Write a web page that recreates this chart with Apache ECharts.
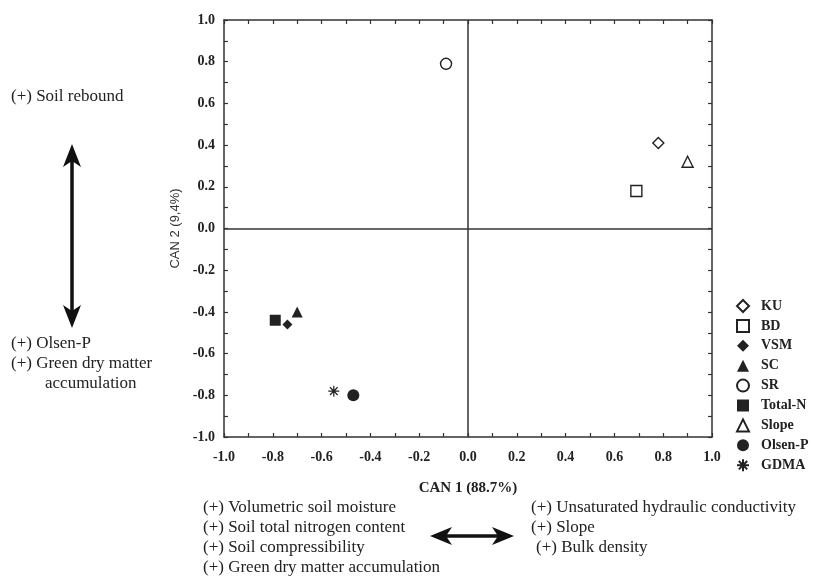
<!DOCTYPE html>
<html><head><meta charset="utf-8">
<script src="https://cdn.jsdelivr.net/npm/echarts@6/dist/echarts.min.js"></script>
<style>html,body{margin:0;padding:0;background:#fff}#c{width:813px;height:580px}</style>
</head><body><div id="c"></div>
<script>
// ---- data ----
const seriesNames = ['KU', 'BD', 'VSM', 'SC', 'SR', 'Total-N', 'Slope', 'Olsen-P', 'GDMA'];
const can1 = [0.78, 0.69, -0.74, -0.70, -0.09, -0.79, 0.90, -0.47, -0.55];
const can2 = [0.41, 0.18, -0.46, -0.40, 0.79, -0.44, 0.32, -0.80, -0.78];
const axisMin = -1.0;
const axisMax = 1.0;
const xTitle = 'CAN 1 (88.7%)';
const yTitle = 'CAN 2 (9,4%)';
const leftTop = ['(+) Soil rebound'];
const leftBottom = ['(+) Olsen-P', '(+) Green dry matter', 'accumulation'];
const bottomLeft = ['(+) Volumetric soil moisture', '(+) Soil total nitrogen content', '(+) Soil compressibility', '(+) Green dry matter accumulation'];
const bottomRight = ['(+) Unsaturated hydraulic conductivity', '(+) Slope', '(+) Bulk density'];

// ---- styles ----
const INK = '#222';
const SERIF = '"Liberation Serif", "Times New Roman", serif';
const ASTER = 'path://M5,0L5,10M0,5L10,5M1.5,1.5L8.5,8.5M1.5,8.5L8.5,1.5';
const markerStyle = {
  'KU': {symbol: 'diamond', size: 11, fill: false},
  'BD': {symbol: 'rect', size: 11, fill: false},
  'VSM': {symbol: 'diamond', size: 10, fill: true},
  'SC': {symbol: 'triangle', size: 11, fill: true},
  'SR': {symbol: 'circle', size: 11, fill: false},
  'Total-N': {symbol: 'rect', size: 11, fill: true},
  'Slope': {symbol: 'triangle', size: 11, fill: false},
  'Olsen-P': {symbol: 'circle', size: 12, fill: true},
  'GDMA': {symbol: ASTER, size: 11, fill: false, stroke: true}
};

const chart = echarts.init(document.getElementById('c'), null, {renderer: 'canvas'});

const series = seriesNames.map((n, i) => {
  const m = markerStyle[n];
  let itemStyle;
  if (m.stroke) itemStyle = {color: 'rgba(0,0,0,0)', borderColor: INK, borderWidth: 1.2, opacity: 1};
  else if (m.fill) itemStyle = {color: INK, borderColor: INK, borderWidth: 0, opacity: 1};
  else itemStyle = {color: '#fff', borderColor: INK, borderWidth: 1.4, opacity: 1};
  const s = {
    type: 'scatter', name: n, data: [[can1[i], can2[i]]],
    symbol: m.symbol, symbolSize: m.size, itemStyle: itemStyle,
    silent: true, z: 5
  };
  if (i === 0) {
    s.markLine = {
      silent: true, symbol: 'none', label: {show: false},
      lineStyle: {color: '#333', width: 1.5, type: 'solid'},
      data: [{xAxis: 0}, {yAxis: 0}], animation: false, z: 2
    };
  }
  return s;
});

const tickCommon = {show: true, inside: true, length: 4, lineStyle: {color: '#333', width: 1.2}};
const minorCommon = {show: true, splitNumber: 2, length: 4, lineStyle: {color: '#333', width: 1.2}};
const lineCommon = {show: true, onZero: false, lineStyle: {color: '#333', width: 1.5}};
const labelCommon = {
  fontFamily: SERIF, fontWeight: 'bold', fontSize: 14, color: INK,
  formatter: v => (Math.abs(v) < 1e-9 ? 0 : v).toFixed(1)
};

const FS = 17;
function txt(x, y, s, extra) {
  return Object.assign({
    type: 'text', x: x, y: y, silent: true,
    style: {text: s, fill: INK, font: FS + 'px ' + SERIF, textVerticalAlign: 'middle', textAlign: 'left'}
  }, extra || {});
}
const graphics = [];
graphics.push(txt(11, 97, leftTop[0]));
graphics.push(txt(11, 344, leftBottom[0]));
graphics.push(txt(11, 364, leftBottom[1]));
graphics.push(txt(45, 384, leftBottom[2]));
const blY = [508, 528, 548, 568];
bottomLeft.forEach((s, i) => graphics.push(txt(203, blY[i], s)));
const brX = [531, 531, 536];
bottomRight.forEach((s, i) => graphics.push(txt(brX[i], blY[i], s)));

// vertical double arrow
graphics.push({type: 'line', silent: true, shape: {x1: 72, y1: 155, x2: 72, y2: 317}, style: {stroke: '#111', lineWidth: 3.5}});
graphics.push({type: 'polygon', silent: true, shape: {points: [[72, 144], [81, 167], [72, 161], [63, 167]]}, style: {fill: '#111'}});
graphics.push({type: 'polygon', silent: true, shape: {points: [[72, 328], [81, 305], [72, 311], [63, 305]]}, style: {fill: '#111'}});
// horizontal double arrow
const ay = 536;
graphics.push({type: 'line', silent: true, shape: {x1: 440, y1: ay, x2: 504, y2: ay}, style: {stroke: '#111', lineWidth: 3.5}});
graphics.push({type: 'polygon', silent: true, shape: {points: [[430, ay], [452, ay - 9], [446, ay], [452, ay + 9]]}, style: {fill: '#111'}});
graphics.push({type: 'polygon', silent: true, shape: {points: [[514, ay], [492, ay - 9], [498, ay], [492, ay + 9]]}, style: {fill: '#111'}});

chart.setOption({
  animation: false,
  backgroundColor: '#fff',
  grid: {left: 224, right: 101, top: 20, bottom: 143, containLabel: false},
  xAxis: [
    {type: 'value', min: axisMin, max: axisMax, interval: 0.2, position: 'bottom',
     axisLine: lineCommon, axisTick: tickCommon, minorTick: minorCommon,
     splitLine: {show: false}, minorSplitLine: {show: false},
     axisLabel: Object.assign({margin: 13}, labelCommon),
     name: xTitle, nameLocation: 'middle', nameGap: 44,
     nameTextStyle: {fontFamily: SERIF, fontWeight: 'bold', fontSize: 15, color: INK}},
    {type: 'value', min: axisMin, max: axisMax, interval: 0.2, position: 'top',
     axisLine: lineCommon, axisTick: tickCommon, minorTick: minorCommon,
     splitLine: {show: false}, axisLabel: {show: false}}
  ],
  yAxis: [
    {type: 'value', min: axisMin, max: axisMax, interval: 0.2, position: 'left',
     axisLine: lineCommon, axisTick: tickCommon, minorTick: minorCommon,
     splitLine: {show: false}, minorSplitLine: {show: false},
     axisLabel: Object.assign({margin: 9}, labelCommon),
     name: yTitle, nameLocation: 'middle', nameGap: 40,
     nameTextStyle: {fontFamily: '"Liberation Sans", Arial, sans-serif', fontSize: 13, color: '#333'}},
    {type: 'value', min: axisMin, max: axisMax, interval: 0.2, position: 'right',
     axisLine: lineCommon, axisTick: tickCommon, minorTick: minorCommon,
     splitLine: {show: false}, axisLabel: {show: false}}
  ],
  legend: {
    data: seriesNames, orient: 'vertical', left: 731, top: 294,
    itemWidth: 12, itemHeight: 12, itemGap: 5.9, selectedMode: false,
    textStyle: {fontFamily: SERIF, fontWeight: 'bold', fontSize: 14, color: INK, lineHeight: 14, padding: [0, 0, 0, 7]}
  },
  graphic: graphics,
  series: series
});
</script></body></html>
